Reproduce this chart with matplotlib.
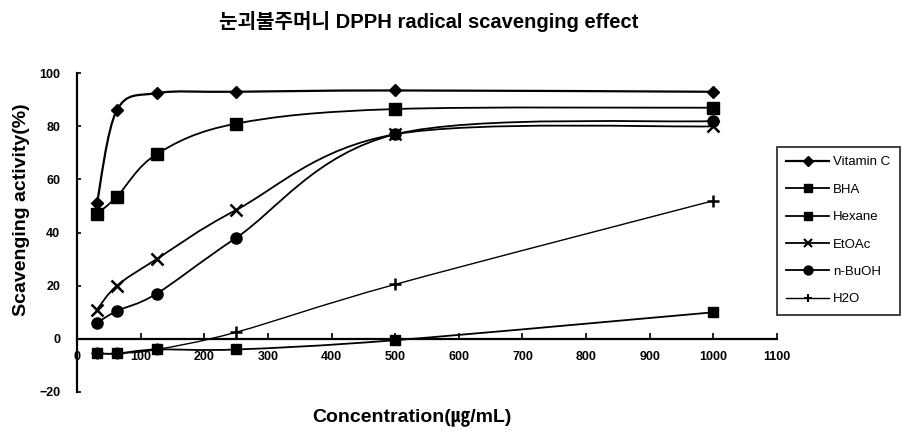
import matplotlib.pyplot as plt
from matplotlib.path import Path
from matplotlib.patches import PathPatch
from matplotlib.lines import Line2D

plt.rcParams['font.family'] = ['Liberation Sans', 'Noto Sans CJK KR', 'DejaVu Sans']

# DATA
conc = [31.25, 62.5, 125, 250, 500, 1000]
vitamin_c = [51, 86, 92.5, 93, 93.5, 93]
bha = [47, 53.5, 69.5, 81, 86.5, 87]
hexane = [-5.5, -5.5, -4, -4, -0.5, 10]
etoac = [11, 20, 30, 48.5, 77, 80]
nbuoh = [6, 10.5, 17, 38, 77, 82]
h2o = [-5.5, -5.5, -4, 2.5, 20.5, 52]

series = [
    ("Vitamin C", vitamin_c, 'D', 6, 1.6),
    ("BHA", bha, 's', 8, 1.3),
    ("Hexane", hexane, 's', 7, 1.3),
    ("EtOAc", etoac, 'x', 8, 1.3),
    ("n-BuOH", nbuoh, 'o', 8, 1.3),
    ("H2O", h2o, '+', 8, 1.0),
]


def smooth_path(xs, ys):
    """Excel-style smoothed line: cubic Bezier through the points."""
    pts = list(zip(xs, ys))
    n = len(pts)
    verts = [pts[0]]
    codes = [Path.MOVETO]
    for i in range(n - 1):
        p0 = pts[max(i - 1, 0)]
        p1 = pts[i]
        p2 = pts[i + 1]
        p3 = pts[min(i + 2, n - 1)]
        c1 = (p1[0] + (p2[0] - p0[0]) / 6, p1[1] + (p2[1] - p0[1]) / 6)
        c2 = (p2[0] - (p3[0] - p1[0]) / 6, p2[1] - (p3[1] - p1[1]) / 6)
        verts += [c1, c2, p2]
        codes += [Path.CURVE4] * 3
    return Path(verts, codes)


fig = plt.figure(figsize=(9.02, 4.32), dpi=100)
ax = fig.add_axes([0.0854, 0.0926, 0.776, 0.738])

handles = []
for name, vals, mk, ms, lw in series:
    ax.add_patch(PathPatch(smooth_path(conc, vals), facecolor='none',
                           edgecolor='black', lw=lw, clip_on=False))
    ax.plot(conc, vals, linestyle='none', marker=mk, ms=ms, color='black',
            mew=1.8 if mk in 'x+' else 1, clip_on=False, zorder=3)
    handles.append(Line2D([], [], color='black', lw=lw, marker=mk,
                          ms=ms * 0.8, mew=1.5 if mk in 'x+' else 1, label=name))

ax.set_xlim(0, 1100)
ax.set_ylim(-20, 100)
ax.set_xticks(range(0, 1101, 100))
ax.set_yticks(range(-20, 101, 20))
ax.set_yticklabels(['\u221220'] + [str(v) for v in range(0, 101, 20)])

ax.spines['top'].set_visible(False)
ax.spines['right'].set_visible(False)
ax.spines['bottom'].set_position(('data', 0))
ax.spines['bottom'].set_linewidth(1.6)
ax.spines['left'].set_linewidth(1.6)
ax.tick_params(axis='x', direction='in', length=4, width=1.2, pad=9, labelsize=9)
ax.tick_params(axis='y', direction='in', length=3, width=1.2, pad=12, labelsize=9)
for lab in ax.get_xticklabels() + ax.get_yticklabels():
    lab.set_fontweight('bold')

fig.text(0.475, 0.951, "눈괴불주머니 DPPH radical scavenging effect",
         ha='center', va='center', fontsize=14.5, fontweight='bold')
fig.text(0.024, 0.514, "Scavenging activity(%)", rotation=90,
         ha='center', va='center', fontsize=14, fontweight='bold')
fig.text(0.457, 0.034, "Concentration(㎍/mL)", ha='center', va='center',
         fontsize=14, fontweight='bold')

leg = fig.legend(handles=handles, loc='upper left',
                 bbox_to_anchor=(0.861, 0.66), borderaxespad=0, fontsize=9.5,
                 frameon=True, fancybox=False, edgecolor='black',
                 labelspacing=1.15, handlelength=3.3, borderpad=0.7,
                 handletextpad=0.3)
leg.get_frame().set_linewidth(1.3)

fig.savefig("out.png", dpi=100)
